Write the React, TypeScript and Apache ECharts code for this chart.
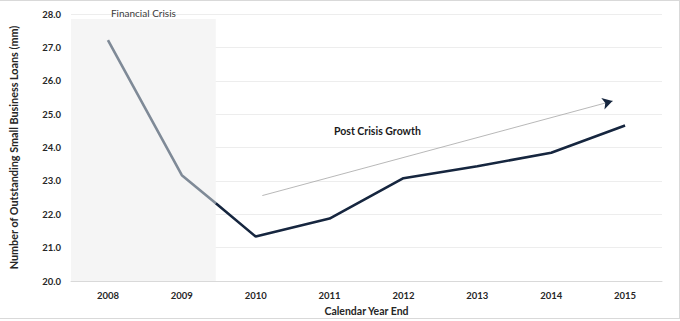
import React, { useEffect, useRef } from "react";
import * as echarts from "echarts";

const years = ["2008", "2009", "2010", "2011", "2012", "2013", "2014", "2015"];
const yearValues = [2008, 2009, 2010, 2011, 2012, 2013, 2014, 2015];
const loans = [27.22, 23.17, 21.33, 21.87, 23.08, 23.44, 23.84, 24.66];
const crisisEnd = 2009.46;
const crisisEndValue = 22.33;
const arrowStart = [2010.09, 22.56];
const arrowEnd = [2014.83, 25.39];
const yTicks = [20, 21, 22, 23, 24, 25, 26, 27, 28];

const NAVY = "#16263f";
const GRAY = "#7f8a97";
const FONT = "Lato, 'Open Sans', sans-serif";

export default function App() {
  const ref = useRef<HTMLDivElement>(null);
  useEffect(() => {
    if (!ref.current) return;
    const chart = echarts.init(ref.current, null, { renderer: "svg" });
    const crisisData: number[][] = [
      [yearValues[0], loans[0]],
      [yearValues[1], loans[1]],
      [crisisEnd, crisisEndValue],
    ];
    const postData: number[][] = [[crisisEnd, crisisEndValue]];
    for (let i = 2; i < yearValues.length; i++) postData.push([yearValues[i], loans[i]]);

    chart.setOption({
      animation: false,
      backgroundColor: "#ffffff",
      textStyle: { fontFamily: FONT },
      grid: { left: 70, right: 18, top: 14, bottom: 37, containLabel: false },
      xAxis: [
        {
          type: "category",
          data: years,
          boundaryGap: true,
          axisLine: { lineStyle: { color: "#d9d9d9", width: 1 } },
          axisTick: { show: false },
          axisLabel: { color: "#262626", fontWeight: "bold", fontSize: 9.5, margin: 9, fontFamily: FONT },
          name: "Calendar Year End",
          nameLocation: "middle",
          nameGap: 24,
          nameTextStyle: { color: "#262626", fontWeight: "bold", fontSize: 10.5, fontFamily: FONT },
          splitLine: { show: false },
        },
        {
          type: "value",
          min: 2007.5,
          max: 2015.5,
          show: false,
          splitLine: { show: false },
        },
      ],
      yAxis: {
        type: "value",
        min: yTicks[0],
        max: yTicks[yTicks.length - 1],
        interval: 1,
        axisLine: { show: false },
        axisTick: { show: false },
        axisLabel: {
          color: "#262626",
          fontWeight: "bold",
          fontSize: 9.5,
          margin: 10,
          fontFamily: FONT,
          formatter: (v: number) => v.toFixed(1),
        },
        splitLine: { lineStyle: { color: "#ededed", width: 1 } },
        name: "Number of Outstanding Small Business Loans (mm)",
        nameLocation: "middle",
        nameGap: 52,
        nameTextStyle: { color: "#262626", fontWeight: "bold", fontSize: 10.8, fontFamily: FONT },
      },
      series: [
        {
          type: "line",
          xAxisIndex: 1,
          data: crisisData,
          symbol: "none",
          lineStyle: { color: GRAY, width: 2.6 },
          z: 3,
          markArea: {
            silent: true,
            itemStyle: { color: "#f5f5f5" },
            label: {
              show: true,
              position: "top",
              distance: 1,
              color: "#3a3a3a",
              fontSize: 10,
              fontFamily: FONT,
            },
            data: [[{ name: "Financial Crisis", coord: [2007.5, 20] }, { coord: [crisisEnd, 27.85] }]],
          },
        },
        {
          type: "line",
          xAxisIndex: 1,
          data: postData,
          symbol: "none",
          lineStyle: { color: NAVY, width: 2.6 },
          z: 4,
          markLine: {
            silent: true,
            symbol: ["none", "none"],
            label: { show: false },
            lineStyle: { color: "#a6a6a6", width: 0.8, type: "solid" },
            data: [[{ coord: arrowStart }, { coord: arrowEnd }]],
          },
        },
        {
          type: "line",
          xAxisIndex: 1,
          data: [],
          symbol: "none",
          markLine: {
            silent: true,
            symbol: ["none", "arrow"],
            symbolSize: [9, 10],
            label: { show: false },
            lineStyle: { color: NAVY, width: 0.5, type: "solid" },
            data: [[{ coord: [arrowEnd[0] - 0.05, arrowEnd[1] - 0.03] }, { coord: arrowEnd }]],
          },
        },
      ],
      graphic: [
        {
          type: "text",
          left: 334,
          top: 125,
          style: { text: "Post Crisis Growth", fill: "#1a1a1a", font: "bold 10.5px " + FONT },
        },
        { type: "line", shape: { x1: 0, y1: 0.5, x2: 680, y2: 0.5 }, style: { stroke: "#d9d9d9", lineWidth: 1 } },
        { type: "line", shape: { x1: 679.5, y1: 0, x2: 679.5, y2: 319 }, style: { stroke: "#d9d9d9", lineWidth: 1 } },
        { type: "line", shape: { x1: 0, y1: 318.5, x2: 680, y2: 318.5 }, style: { stroke: "#d9d9d9", lineWidth: 1 } },
      ],
    });
    return () => chart.dispose();
  }, []);
  return (
    <div
      ref={ref}
      style={{ position: "fixed", left: 0, top: 0, width: 680, height: 321 }}
    />
  );
}
